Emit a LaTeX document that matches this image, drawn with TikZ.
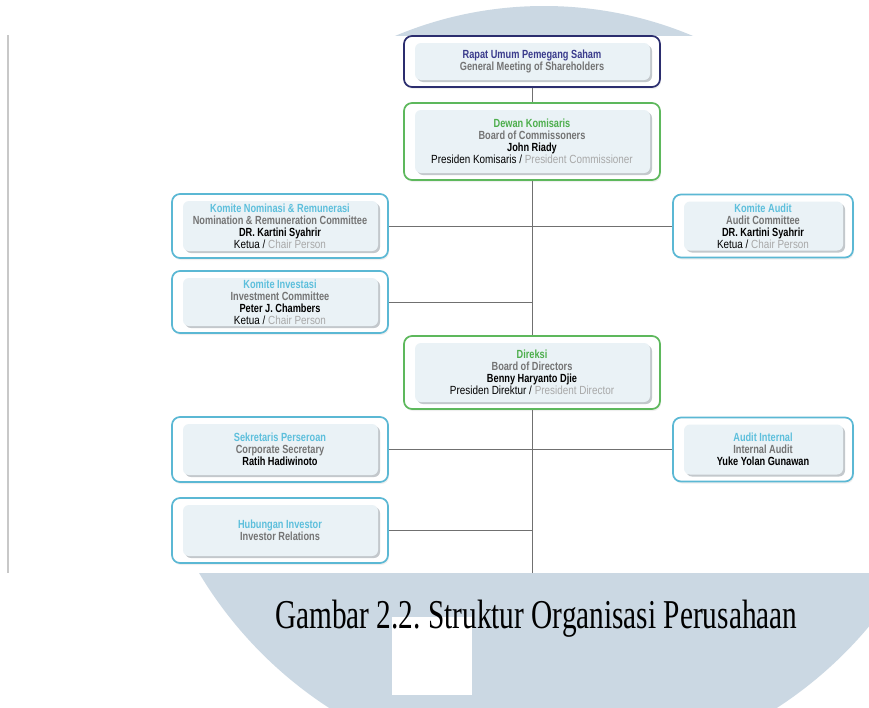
\documentclass[tikz,border=0pt]{standalone}
\usepackage{fontspec}
\setmainfont{Liberation Sans}
\newfontfamily\chR{Liberation Sans}[FakeStretch=0.84]
\newfontfamily\chB{Liberation Sans}[FakeStretch=0.78]
\newfontfamily\capfont{Liberation Serif}[FakeStretch=0.715]
\usetikzlibrary{shadows}
\definecolor{navyB}{HTML}{2B2D6E}
\definecolor{navyT}{HTML}{3A3B8C}
\definecolor{greenB}{HTML}{5DB85C}
\definecolor{greenT}{HTML}{4DAE4C}
\definecolor{blueB}{HTML}{5BB8D4}
\definecolor{blueT}{HTML}{5DBFDC}
\definecolor{grayT}{HTML}{747474}
\definecolor{lgrayT}{HTML}{A8A8A8}
\definecolor{innerC}{HTML}{EAF2F6}
\definecolor{shadowC}{HTML}{C3C8CC}
\definecolor{lineC}{HTML}{707070}
\definecolor{wmC}{HTML}{CBD8E3}
\definecolor{leftC}{HTML}{C8C8C8}
\newcommand{\orgT}[2]{\textcolor{#1}{\chB\bfseries #2}}
\newcommand{\orgG}[1]{\textcolor{grayT}{\chB\bfseries #1}}
\newcommand{\orgN}[1]{\textcolor{black}{\chB\bfseries #1}}
\newcommand{\orgR}[2]{{\chR\color{black}#1 / \color{lgrayT}#2}}
\pgfdeclarelayer{back}
\pgfdeclarelayer{bg}
\pgfsetlayers{back,bg,main}
\tikzset{
  obox/.style={draw=#1, line width=1.7pt, rounded corners=8pt, fill=white,
    align=center, inner sep=0pt,
    font=\fontsize{11.8}{12}\selectfont,
    drop shadow={opacity=0.12, shadow xshift=1pt, shadow yshift=-2pt},
    path picture={
      \fill[shadowC, rounded corners=6pt]
        ([shift={(13pt,-9pt)}]path picture bounding box.north west) rectangle
        ([shift={(-8pt,5pt)}]path picture bounding box.south east);
      \fill[innerC, rounded corners=6pt]
        ([shift={(11pt,-7pt)}]path picture bounding box.north west) rectangle
        ([shift={(-10pt,7pt)}]path picture bounding box.south east);
    }},
  wide/.style={minimum width=256pt},
  side/.style={minimum width=216pt},
  rside/.style={minimum width=180pt},
  conn/.style={draw=lineC, line width=0.8pt}
}
\begin{document}
\frenchspacing
\begin{tikzpicture}[x=1pt,y=-1pt]
\useasboundingbox (0,0) rectangle (869,707);
\begin{pgfonlayer}{back}
\fill[white] (0,0) rectangle (869,707);
% watermark
\begin{scope}
  \clip (0,0) rectangle (869,35);
  \fill[wmC] (544,390) circle[radius=384pt];
\end{scope}
\begin{scope}
  \clip (0,573) rectangle (869,707);
  \fill[wmC] (553,362) circle[radius=412pt];
  \fill[white] (392,617) rectangle (472,695);
\end{scope}
\draw[leftC, line width=2pt] (8,35) -- (8,573);
\end{pgfonlayer}

% boxes
\node[obox=navyB, wide, minimum height=51pt] (rups) at (532,61.5)
  {\orgT{navyT}{Rapat Umum Pemegang Saham}\\ \orgG{General Meeting of Shareholders}};
\node[obox=greenB, wide, minimum height=77pt] (dekom) at (532,141.5)
  {\orgT{greenT}{Dewan Komisaris}\\ \orgG{Board of Commissoners}\\ \orgN{John Riady}\\ \orgR{Presiden Komisaris}{President Commissioner}};
\node[obox=blueB, side, minimum height=64pt] (kn) at (280,226)
  {\orgT{blueT}{Komite Nominasi \& Remunerasi}\\ \orgG{Nomination \& Remuneration Committee}\\ \orgN{DR. Kartini Syahrir}\\ \orgR{Ketua}{Chair Person}};
\node[obox=blueB, rside, minimum height=63pt] (ka) at (763,226)
  {\orgT{blueT}{Komite Audit}\\ \orgG{Audit Committee}\\ \orgN{DR. Kartini Syahrir}\\ \orgR{Ketua}{Chair Person}};
\node[obox=blueB, side, minimum height=62pt] (ki) at (280,302)
  {\orgT{blueT}{Komite Investasi}\\ \orgG{Investment Committee}\\ \orgN{Peter J. Chambers}\\ \orgR{Ketua}{Chair Person}};
\node[obox=greenB, wide, minimum height=73pt] (dir) at (532,372.5)
  {\orgT{greenT}{Direksi}\\ \orgG{Board of Directors}\\ \orgN{Benny Haryanto Djie}\\ \orgR{Presiden Direktur}{President Director}};
\node[obox=blueB, side, minimum height=65pt] (sek) at (280,449.5)
  {\orgT{blueT}{Sekretaris Perseroan}\\ \orgG{Corporate Secretary}\\ \orgN{Ratih Hadiwinoto}};
\node[obox=blueB, rside, minimum height=64pt] (ai) at (763,449.5)
  {\orgT{blueT}{Audit Internal}\\ \orgG{Internal Audit}\\ \orgN{Yuke Yolan Gunawan}};
\node[obox=blueB, side, minimum height=65pt] (hub) at (280,530.5)
  {\orgT{blueT}{Hubungan Investor}\\ \orgG{Investor Relations}};
\coordinate (bot) at (532,573);

% connectors
\begin{pgfonlayer}{bg}
  \draw[conn] (rups) -- (bot);
  \draw[conn] (kn) -- (ka);
  \draw[conn] (ki.east) -- (ki.east -| bot);
  \draw[conn] (sek) -- (ai);
  \draw[conn] (hub.east) -- (hub.east -| bot);
\end{pgfonlayer}

% caption
\node[font=\capfont\fontsize{41}{43}\selectfont, anchor=base west, inner sep=0pt] (cap) at (275,628)
  {Gambar 2.2. Struktur Organisasi Perusahaan};
\end{tikzpicture}
\end{document}
